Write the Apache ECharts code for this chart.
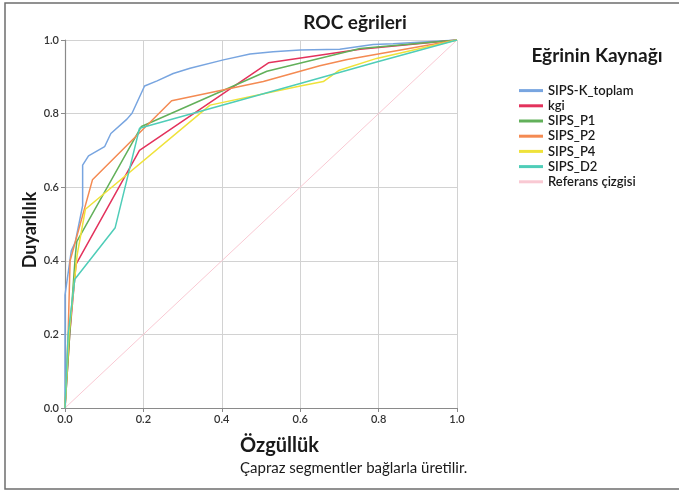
<!DOCTYPE html>
<html><head><meta charset="utf-8">
<script src="https://cdn.jsdelivr.net/npm/echarts@6/dist/echarts.min.js"></script>
<style>html,body{margin:0;padding:0;background:#fff}#c{width:679px;height:490px}</style>
</head><body><div id="c"></div>
<script>
const seriesNames = ['SIPS-K_toplam','kgi','SIPS_P1','SIPS_P2','SIPS_P4','SIPS_D2','Referans çizgisi'];
const tickLabels = ['0.0','0.2','0.4','0.6','0.8','1.0'];
const sipsKToplam = [[0,0],[0,0.307],[0.016,0.427],[0.026,0.45],[0.045,0.55],[0.045,0.66],[0.06,0.685],[0.101,0.71],[0.117,0.746],[0.158,0.785],[0.171,0.801],[0.203,0.875],[0.235,0.889],[0.276,0.909],[0.319,0.923],[0.404,0.946],[0.472,0.962],[0.531,0.968],[0.6,0.973],[0.701,0.975],[0.786,0.988],[0.837,0.99],[1,1]];
const kgi = [[0,0],[0.012,0.2],[0.028,0.39],[0.19,0.70],[0.519,0.938],[0.753,0.975],[1,1]];
const sipsP1 = [[0,0],[0.012,0.2],[0.026,0.41],[0.03,0.452],[0.195,0.765],[0.515,0.915],[0.753,0.977],[1,1]];
const sipsP2 = [[0,0],[0.008,0.2],[0.013,0.40],[0.07,0.62],[0.272,0.835],[0.506,0.887],[0.65,0.93],[0.72,0.947],[1,1]];
const sipsP4 = [[0,0],[0.01,0.2],[0.031,0.416],[0.052,0.54],[0.37,0.823],[0.6,0.875],[0.659,0.887],[0.70,0.918],[0.795,0.95],[1,1]];
const sipsD2 = [[0,0],[0.008,0.2],[0.025,0.35],[0.128,0.49],[0.19,0.76],[0.6,0.882],[0.795,0.94],[1,1]];
const referans = [[0,0],[1,1]];
const colors = ['#78a5e0','#e3325c','#62b05a','#f48a52','#efe23a','#4fcdb8','#f9c9d3'];
const dataSets = [sipsKToplam,kgi,sipsP1,sipsP2,sipsP4,sipsD2,referans];

const FF = 'Lato, "Open Sans", sans-serif';
const chart = echarts.init(document.getElementById('c'), null, {renderer:'canvas'});
chart.setOption({
  animation:false,
  color: colors,
  title:[
    {text:'ROC eğrileri', left:350, top:8, textAlign:'center',
     textStyle:{fontFamily:FF,fontSize:19,fontWeight:'bold',color:'#1a1a1a'}},
    {text:'Eğrinin Kaynağı', left:592, top:41, textAlign:'center',
     textStyle:{fontFamily:FF,fontSize:19,fontWeight:'bold',color:'#1a1a1a'}}
  ],
  grid:{left:65,right:222,top:40,bottom:82,containLabel:false},
  xAxis:{type:'value',min:0,max:1,interval:0.2,
    axisLine:{show:true,lineStyle:{color:'#8a8a8a',width:1.2}},
    axisTick:{show:true,length:4,lineStyle:{color:'#8a8a8a'}},
    axisLabel:{formatter:(v)=>tickLabels[Math.round(v*5)],fontFamily:FF,fontSize:11,fontWeight:600,color:'#333',margin:6},
    splitLine:{show:true,lineStyle:{color:'#d2d2d2',width:1}}},
  yAxis:{type:'value',min:0,max:1,interval:0.2,
    axisLine:{show:true,lineStyle:{color:'#8a8a8a',width:1.2}},
    axisTick:{show:true,length:4,lineStyle:{color:'#8a8a8a'}},
    axisLabel:{formatter:(v)=>tickLabels[Math.round(v*5)],fontFamily:FF,fontSize:11,fontWeight:600,color:'#333',margin:6},
    splitLine:{show:true,lineStyle:{color:'#d2d2d2',width:1}}},
  legend:{orient:'vertical',left:519,top:83,padding:0,itemWidth:24,itemHeight:3,itemGap:0,icon:'rect',
    data:seriesNames,
    textStyle:{fontFamily:FF,fontSize:13,fontWeight:600,color:'#1a1a1a',lineHeight:15.2}},
  graphic:[
    {type:'rect',shape:{x:5,y:3,width:700,height:486},style:{fill:'none',stroke:'#6e6e6e',lineWidth:1.5},silent:true},
    {type:'text',rotation:Math.PI/2,x:30,y:230,style:{text:'Duyarlılık',font:'bold 18px '+FF,fill:'#1a1a1a',textAlign:'center',textVerticalAlign:'middle'}},
    {type:'text',x:240,y:436,style:{text:'Özgüllük',font:'bold 20px '+FF,fill:'#1a1a1a'}},
    {type:'text',x:240,y:461,style:{text:'Çapraz segmentler bağlarla üretilir.',font:'15px '+FF,fill:'#1a1a1a'}}
  ],
  series: seriesNames.map((n,i)=>({
    name:n,type:'line',data:dataSets[i],showSymbol:false,symbol:'none',
    lineStyle:{width:i===6?1:1.5,color:colors[i]},
    z: i===6?1:2+i
  }))
});
</script></body></html>
